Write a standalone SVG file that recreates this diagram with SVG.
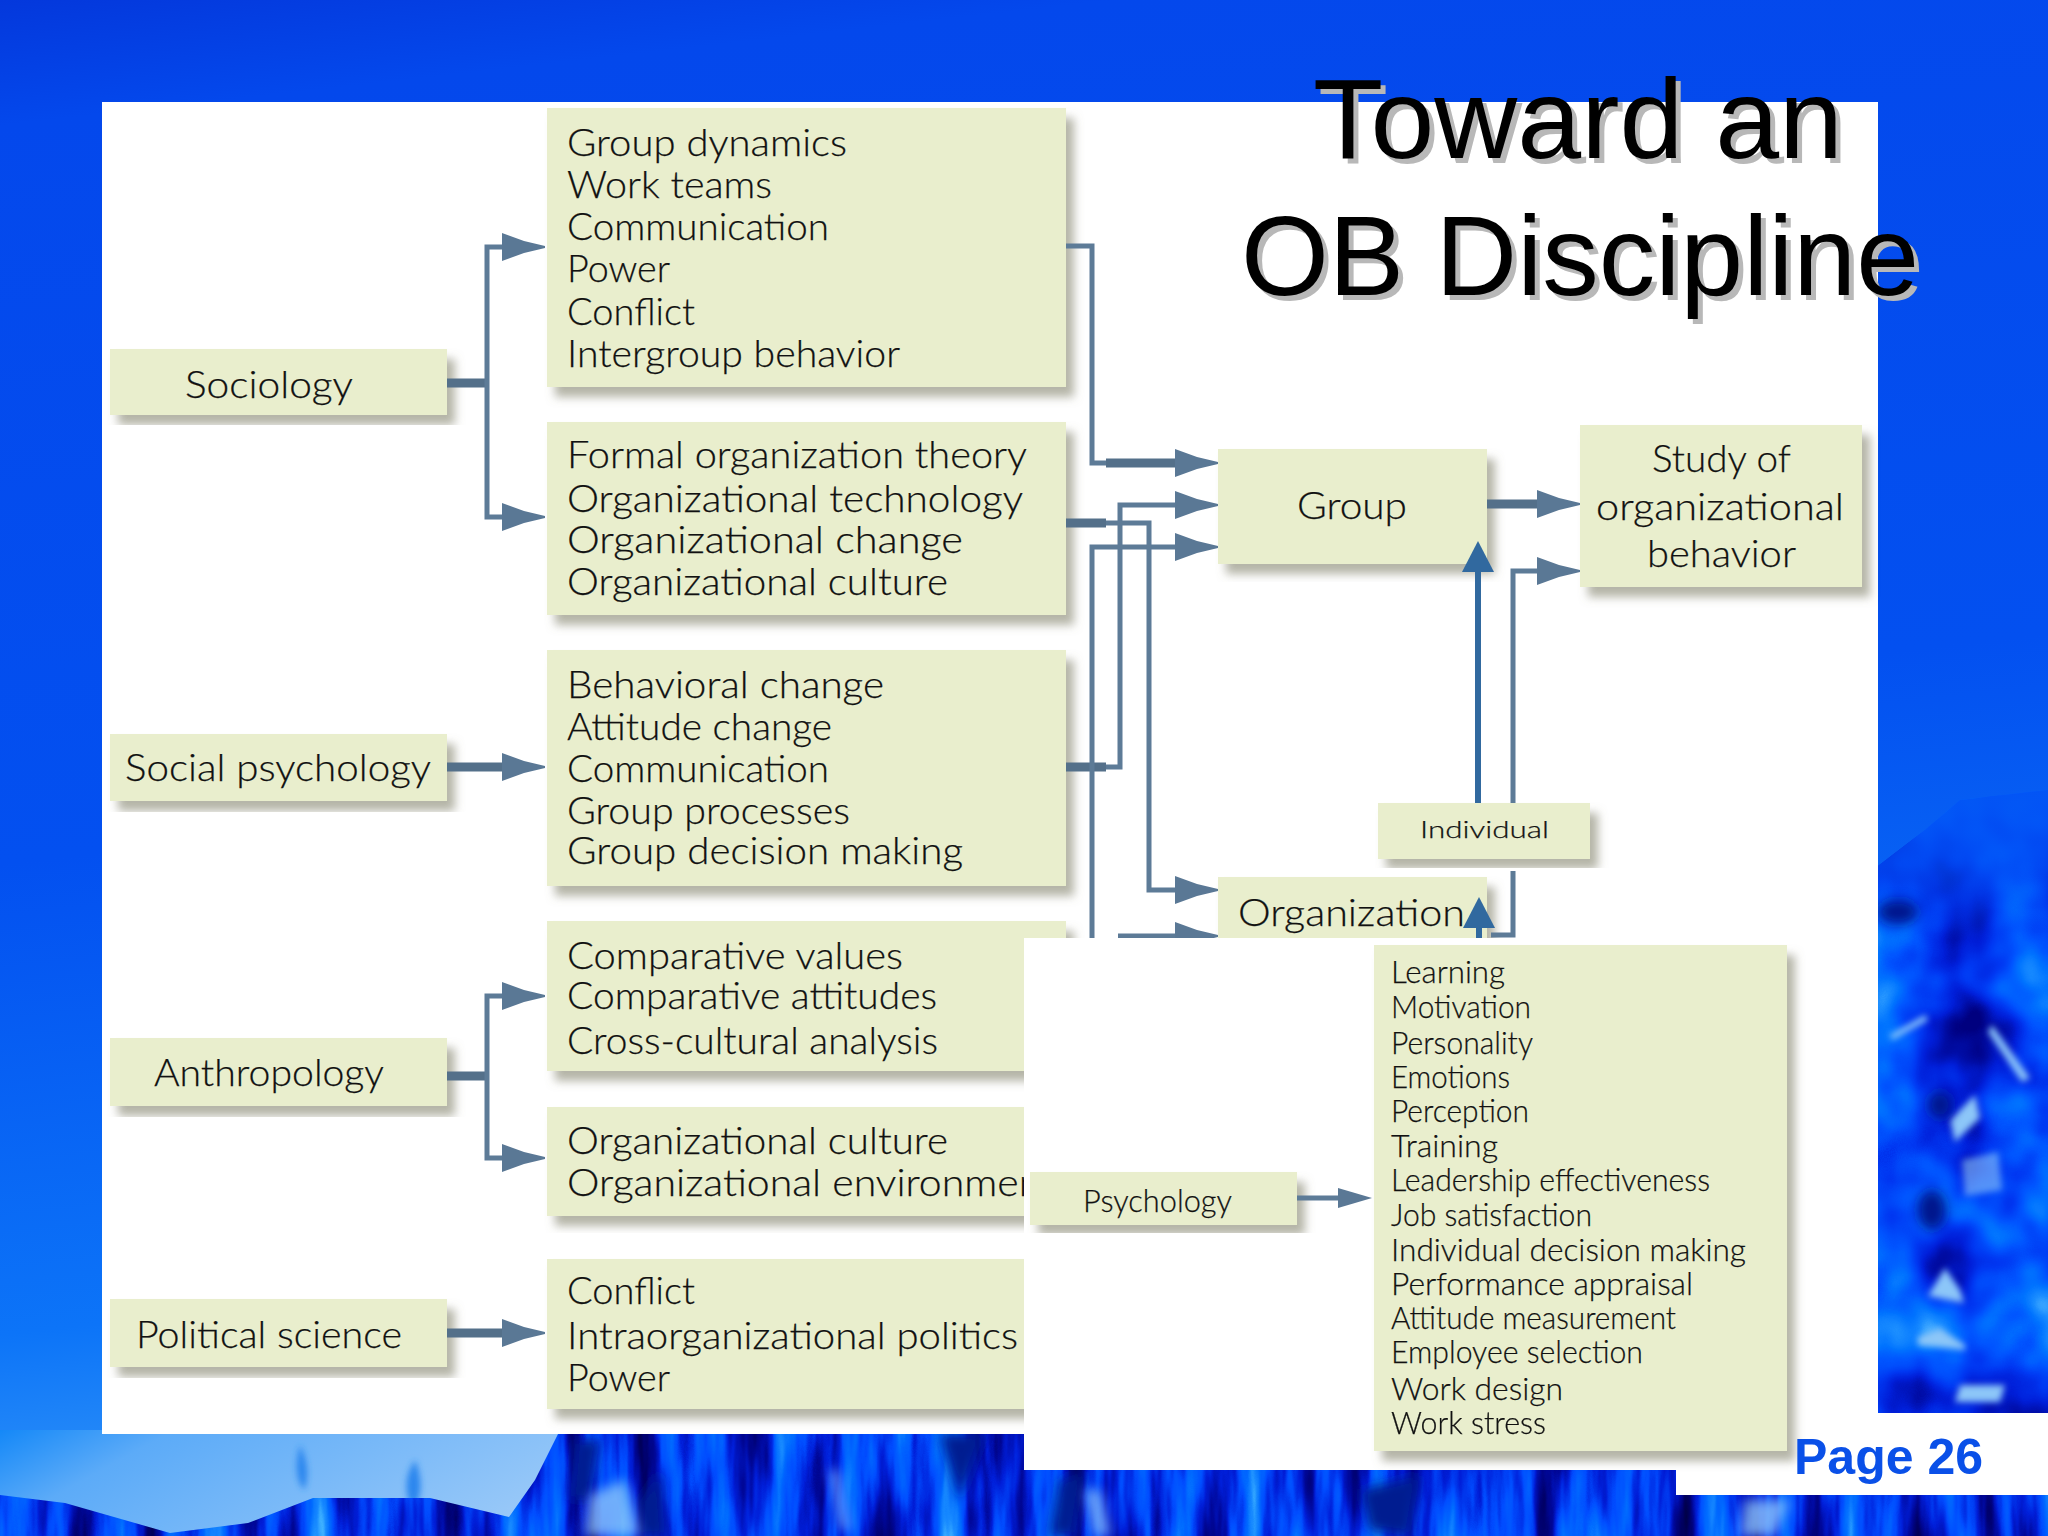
<svg xmlns="http://www.w3.org/2000/svg" width="2048" height="1536" viewBox="0 0 2048 1536">
<style>
.box{fill:#e9eecd;filter:url(#sh)}
.t{font-family:Lato,"Open Sans","Liberation Sans",sans-serif;font-weight:300;fill:#111;font-size:38px;transform:translateY(0.5px);stroke:#111;stroke-width:.25px}
.s{font-size:32px}
.i{font-size:23px}
.ttl{font-family:"Liberation Sans",Arial,sans-serif;font-size:113px}
.c{fill:none;stroke:#5d7b97;stroke-width:5}
.th{fill:none;stroke:#54708a;stroke-width:9}
.b{fill:none;stroke:#31699f;stroke-width:6}
</style>
<defs>
<linearGradient id="bg" x1="0" y1="0" x2="0.15" y2="1"><stop offset="0" stop-color="#0438dc"/><stop offset="0.08" stop-color="#0448ec"/><stop offset="0.55" stop-color="#0350f0"/><stop offset="0.85" stop-color="#0c74f8"/><stop offset="1" stop-color="#3a9cf8"/></linearGradient>
<linearGradient id="sky" x1="0" y1="0" x2="1" y2="0.3"><stop offset="0" stop-color="#1488f8"/><stop offset="0.25" stop-color="#5cabf8"/><stop offset="1" stop-color="#9ccaf8"/></linearGradient>
<linearGradient id="fade" x1="0" y1="0" x2="0" y2="1"><stop offset="0" stop-color="#0354f4"/><stop offset="0.55" stop-color="#0354f4" stop-opacity=".6"/><stop offset="1" stop-color="#0354f4" stop-opacity="0"/></linearGradient>
<filter id="sh" x="-10%" y="-10%" width="120%" height="125%"><feDropShadow dx="8" dy="10" stdDeviation="5" flood-color="#77785e" flood-opacity="0.55"/></filter>
<filter id="blur"><feGaussianBlur stdDeviation="3"/></filter>
<filter id="blur2" x="-30%" y="-30%" width="160%" height="160%"><feGaussianBlur stdDeviation="6"/></filter>
<filter id="tex1" x="0" y="0" width="1" height="1" color-interpolation-filters="sRGB">
<feTurbulence type="fractalNoise" baseFrequency="0.03 0.004" numOctaves="4" seed="8"/>
<feColorMatrix values="1 0 0 0 0 1 0 0 0 0 1 0 0 0 0 0 0 0 0 1"/>
<feComponentTransfer><feFuncR type="table" tableValues="0 0 0 0 0 0 0 .1 .3 .6"/><feFuncG type="table" tableValues="0 0 0 .03 .12 .3 .42 .55 .75 .9"/><feFuncB type="table" tableValues=".25 .25 .4 .6 .85 1 1 1 1 1"/></feComponentTransfer>
</filter>
<filter id="tex2" x="0" y="0" width="1" height="1" color-interpolation-filters="sRGB">
<feTurbulence type="fractalNoise" baseFrequency="0.012 0.011" numOctaves="3" seed="23"/>
<feColorMatrix values="1 0 0 0 0 1 0 0 0 0 1 0 0 0 0 0 0 0 0 1"/>
<feComponentTransfer><feFuncR type="table" tableValues="0 0 0 0 0 0 0 .1 .3 .5"/><feFuncG type="table" tableValues="0 0 .05 .12 .22 .33 .45 .55 .7 .85"/><feFuncB type="table" tableValues=".5 .5 .65 .85 .95 1 1 1 1 1"/></feComponentTransfer>
</filter>
<clipPath id="cb"><path d="M560 1430H2048V1536H0V1495L65 1503L170 1533L248 1523L313 1498L430 1498L509 1517L535 1480Z"/></clipPath>
<clipPath id="cr"><path d="M1870 872L1925 830L1960 800L2048 790V1420H1870Z"/></clipPath>
<clipPath id="cu"><rect x="1000" y="0" width="400" height="938"/></clipPath>
<marker id="ah" markerUnits="userSpaceOnUse" markerWidth="46" markerHeight="32" refX="18" refY="15" orient="auto"><path d="M0 1L22 9L43 14V16L22 21L0 29Z" fill="#5a7895"/></marker>
<marker id="ahs" markerUnits="userSpaceOnUse" markerWidth="40" markerHeight="24" refX="14" refY="11" orient="auto"><path d="M0 1L34 11L0 21Z" fill="#5a7895"/></marker>
<marker id="ab" markerUnits="userSpaceOnUse" markerWidth="34" markerHeight="34" refX="6" refY="16" orient="auto"><path d="M0 0L31 16L0 32Z" fill="#31699f"/></marker>
</defs>

<g id="background">
<rect width="2048" height="1536" fill="url(#bg)"/>
<rect x="0" y="1430" width="640" height="106" fill="url(#sky)"/>
<path d="M300 1445q12 25 4 45q-12-15-4-45ZM415 1460q12 30-2 50q-14-25 2-50Z" fill="#2a86ee" filter="url(#blur)"/>
<g clip-path="url(#cb)"><rect x="0" y="1430" width="2048" height="106" filter="url(#tex1)"/>
<g fill="#001a90" filter="url(#blur2)"><path d="M575 1440L600 1440L590 1500L570 1500Z"/><path d="M940 1434L985 1434L960 1500Z"/><path d="M1060 1480L1085 1470L1075 1536L1050 1536Z"/><path d="M1360 1490L1420 1475L1410 1536L1370 1530Z"/><path d="M640 1500L660 1470L665 1536L640 1536Z"/></g>
<g fill="#8cc4fa" filter="url(#blur2)" opacity=".8"><path d="M590 1495L625 1480L640 1536H585Z"/><path d="M1745 1500H1790L1775 1536H1740Z"/><path d="M1085 1490L1100 1490L1110 1536H1095Z"/><path d="M830 1470L838 1470L850 1530H842Z"/></g>
</g>
<g clip-path="url(#cr)"><rect x="1870" y="780" width="178" height="640" filter="url(#tex2)"/>
<rect x="1870" y="780" width="178" height="160" fill="url(#fade)"/>
<g fill="#8cc6f8" filter="url(#blur)"><path d="M1945 1268L1960 1290L1964 1303L1928 1296Z"/><path d="M1918 1337L1940 1328L1965 1345V1350L1918 1345Z"/><path d="M1960 1385H2005L2000 1402H1955Z"/><path d="M1950 1120L1975 1095L1980 1118L1955 1142Z"/><path d="M1962 1160L1998 1152L2002 1190L1965 1196Z" opacity=".6"/><path d="M1992 1025L2030 1078L2022 1082L1988 1032Z"/><path d="M1890 1035L1925 1015L1928 1020L1892 1040Z"/></g>
<g fill="#00188c" filter="url(#blur2)"><ellipse cx="1898" cy="912" rx="20" ry="12"/><ellipse cx="1932" cy="1210" rx="14" ry="20"/><ellipse cx="1940" cy="1105" rx="12" ry="14"/></g>
</g>
</g>

<rect id="panel" x="102" y="102" width="1776" height="1332" fill="#fff"/>

<g id="n-sociology"><rect class="box" x="110" y="349" width="337" height="66"/><text class="t" x="185" y="397" textLength="168" lengthAdjust="spacingAndGlyphs">Sociology</text></g>
<g id="n-socpsych"><rect class="box" x="110" y="734" width="337" height="67"/><text class="t" x="125" y="780" textLength="306" lengthAdjust="spacingAndGlyphs">Social psychology</text></g>
<g id="n-anthro"><rect class="box" x="110" y="1038" width="337" height="68"/><text class="t" x="154" y="1085" textLength="230" lengthAdjust="spacingAndGlyphs">Anthropology</text></g>
<g id="n-polsci"><rect class="box" x="110" y="1299" width="337" height="68"/><text class="t" x="136" y="1347" textLength="266" lengthAdjust="spacingAndGlyphs">Political science</text></g>

<g id="n-group-topics"><rect class="box" x="547" y="108" width="519" height="279"/>
<text class="t" x="567" y="155" textLength="280" lengthAdjust="spacingAndGlyphs">Group dynamics</text>
<text class="t" x="567" y="197" textLength="205" lengthAdjust="spacingAndGlyphs">Work teams</text>
<text class="t" x="567" y="239" textLength="262" lengthAdjust="spacingAndGlyphs">Communication</text>
<text class="t" x="567" y="281" textLength="103" lengthAdjust="spacingAndGlyphs">Power</text>
<text class="t" x="567" y="324" textLength="128" lengthAdjust="spacingAndGlyphs">Conflict</text>
<text class="t" x="567" y="366" textLength="333" lengthAdjust="spacingAndGlyphs">Intergroup behavior</text></g>
<g id="n-org-topics"><rect class="box" x="547" y="422" width="519" height="193"/>
<text class="t" x="567" y="467" textLength="460" lengthAdjust="spacingAndGlyphs">Formal organization theory</text>
<text class="t" x="567" y="511" textLength="456" lengthAdjust="spacingAndGlyphs">Organizational technology</text>
<text class="t" x="567" y="552" textLength="396" lengthAdjust="spacingAndGlyphs">Organizational change</text>
<text class="t" x="567" y="594" textLength="381" lengthAdjust="spacingAndGlyphs">Organizational culture</text></g>
<g id="n-behav-topics"><rect class="box" x="547" y="650" width="519" height="236"/>
<text class="t" x="567" y="697" textLength="317" lengthAdjust="spacingAndGlyphs">Behavioral change</text>
<text class="t" x="567" y="739" textLength="265" lengthAdjust="spacingAndGlyphs">Attitude change</text>
<text class="t" x="567" y="781" textLength="262" lengthAdjust="spacingAndGlyphs">Communication</text>
<text class="t" x="567" y="823" textLength="283" lengthAdjust="spacingAndGlyphs">Group processes</text>
<text class="t" x="567" y="863" textLength="396" lengthAdjust="spacingAndGlyphs">Group decision making</text></g>
<g id="n-comp-topics"><rect class="box" x="547" y="921" width="519" height="150"/>
<text class="t" x="567" y="968" textLength="336" lengthAdjust="spacingAndGlyphs">Comparative values</text>
<text class="t" x="567" y="1008" textLength="370" lengthAdjust="spacingAndGlyphs">Comparative attitudes</text>
<text class="t" x="567" y="1053" textLength="371" lengthAdjust="spacingAndGlyphs">Cross-cultural analysis</text></g>
<g id="n-culture-topics"><rect class="box" x="547" y="1107" width="519" height="109"/>
<text class="t" x="567" y="1153" textLength="381" lengthAdjust="spacingAndGlyphs">Organizational culture</text>
<text class="t" x="567" y="1195" textLength="488" lengthAdjust="spacingAndGlyphs">Organizational environment</text></g>
<g id="n-politics-topics"><rect class="box" x="547" y="1259" width="519" height="150"/>
<text class="t" x="567" y="1303" textLength="128" lengthAdjust="spacingAndGlyphs">Conflict</text>
<text class="t" x="567" y="1348" textLength="451" lengthAdjust="spacingAndGlyphs">Intraorganizational politics</text>
<text class="t" x="567" y="1390" textLength="103" lengthAdjust="spacingAndGlyphs">Power</text></g>

<g id="n-group"><rect class="box" x="1218" y="449" width="269" height="115"/><text class="t" x="1297" y="518" textLength="110" lengthAdjust="spacingAndGlyphs">Group</text></g>
<g id="n-study"><rect class="box" x="1580" y="425" width="282" height="162"/>
<text class="t" x="1652" y="471" textLength="139" lengthAdjust="spacingAndGlyphs">Study of</text>
<text class="t" x="1596" y="519" textLength="248" lengthAdjust="spacingAndGlyphs">organizational</text>
<text class="t" x="1647" y="566" textLength="149" lengthAdjust="spacingAndGlyphs">behavior</text></g>
<g id="n-individual"><rect class="box" x="1378" y="803" width="212" height="56"/><text class="t i" x="1420" y="837" textLength="129" lengthAdjust="spacingAndGlyphs">Individual</text></g>
<g id="n-organization"><rect class="box" x="1218" y="877" width="269" height="120"/><text class="t" x="1238" y="925" textLength="227" lengthAdjust="spacingAndGlyphs">Organization</text></g>

<rect id="footer" x="1676" y="1413" width="372" height="82" fill="#fff"/>
<rect id="inset" x="1024" y="938" width="780" height="532" fill="#fff"/>

<g id="n-psychology"><rect class="box" x="1030" y="1172" width="267" height="53"/><text class="t s" x="1083" y="1211" textLength="149" lengthAdjust="spacingAndGlyphs">Psychology</text></g>
<g id="n-psych-topics"><rect class="box" x="1374" y="945" width="413" height="506"/>
<text class="t s" x="1391" y="982" textLength="114" lengthAdjust="spacingAndGlyphs">Learning</text>
<text class="t s" x="1391" y="1017" textLength="140" lengthAdjust="spacingAndGlyphs">Motivation</text>
<text class="t s" x="1391" y="1053" textLength="142" lengthAdjust="spacingAndGlyphs">Personality</text>
<text class="t s" x="1391" y="1087" textLength="119" lengthAdjust="spacingAndGlyphs">Emotions</text>
<text class="t s" x="1391" y="1121" textLength="138" lengthAdjust="spacingAndGlyphs">Perception</text>
<text class="t s" x="1391" y="1156" textLength="107" lengthAdjust="spacingAndGlyphs">Training</text>
<text class="t s" x="1391" y="1190" textLength="319" lengthAdjust="spacingAndGlyphs">Leadership effectiveness</text>
<text class="t s" x="1391" y="1225" textLength="201" lengthAdjust="spacingAndGlyphs">Job satisfaction</text>
<text class="t s" x="1391" y="1260" textLength="355" lengthAdjust="spacingAndGlyphs">Individual decision making</text>
<text class="t s" x="1391" y="1294" textLength="302" lengthAdjust="spacingAndGlyphs">Performance appraisal</text>
<text class="t s" x="1391" y="1328" textLength="285" lengthAdjust="spacingAndGlyphs">Attitude measurement</text>
<text class="t s" x="1391" y="1362" textLength="252" lengthAdjust="spacingAndGlyphs">Employee selection</text>
<text class="t s" x="1391" y="1399" textLength="172" lengthAdjust="spacingAndGlyphs">Work design</text>
<text class="t s" x="1391" y="1433" textLength="155" lengthAdjust="spacingAndGlyphs">Work stress</text></g>

<g id="connectors">
<path class="th" d="M447 383H487"/>
<path class="c" d="M487 383V247H520" marker-end="url(#ah)"/>
<path class="c" d="M487 383V517H520" marker-end="url(#ah)"/>
<path class="th" d="M447 767H520" marker-end="url(#ah)"/>
<path class="th" d="M447 1076H487"/>
<path class="c" d="M487 1076V996H520" marker-end="url(#ah)"/>
<path class="c" d="M487 1076V1158H520" marker-end="url(#ah)"/>
<path class="th" d="M447 1333H520" marker-end="url(#ah)"/>
<path class="c" d="M1066 246H1092V463H1110"/>
<path class="th" d="M1106 463H1193" marker-end="url(#ah)"/>
<path class="th" d="M1066 767H1106"/>
<path class="c" d="M1106 767H1120V505H1193" marker-end="url(#ah)"/>
<path class="c" d="M1092 938V547H1193" marker-end="url(#ah)"/>
<path class="th" d="M1066 523H1106"/>
<path class="c" d="M1106 523H1149V890H1193" marker-end="url(#ah)"/>
<path class="c" d="M1118 936H1193" marker-end="url(#ah)" clip-path="url(#cu)"/>
<path class="th" d="M1487 504H1555" marker-end="url(#ah)"/>
<path class="c" d="M1513 803V571H1555" marker-end="url(#ah)"/>
<path class="c" d="M1491 935H1513V871"/>
<path class="b" d="M1478 803V566" marker-end="url(#ab)"/>
<path class="b" d="M1479 938V922" marker-end="url(#ab)"/>
<path class="c" d="M1297 1198H1352" marker-end="url(#ahs)"/>
</g>

<g id="title">
<text class="ttl" x="1318" y="163" fill="#b8b8b8" textLength="530" lengthAdjust="spacingAndGlyphs">Toward an</text>
<text class="ttl" x="1313" y="158" fill="#000" textLength="530" lengthAdjust="spacingAndGlyphs">Toward an</text>
<text class="ttl" x="1246" y="300" fill="#b8b8b8" textLength="678" lengthAdjust="spacingAndGlyphs">OB Discipline</text>
<text class="ttl" x="1241" y="295" fill="#000" textLength="678" lengthAdjust="spacingAndGlyphs">OB Discipline</text>
</g>
<text id="page" x="1794" y="1474" font-family="Liberation Sans, Arial, sans-serif" font-weight="700" font-size="50" fill="#0a50e8">Page 26</text>
</svg>
